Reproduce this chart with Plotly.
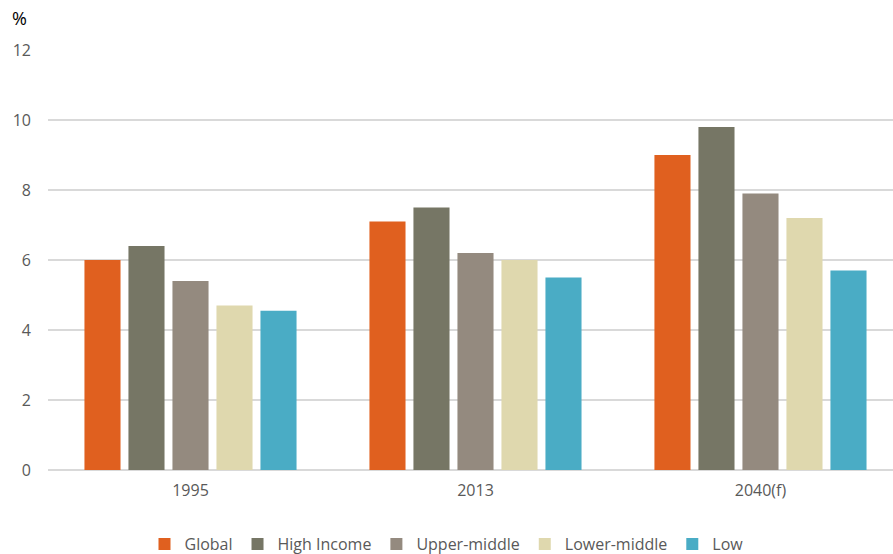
import plotly.graph_objects as go

categories = ["1995", "2013", "2040(f)"]
series_names = ["Global", "High Income", "Upper-middle", "Lower-middle", "Low"]
global_vals = [6.0, 7.1, 9.0]
high_income = [6.4, 7.5, 9.8]
upper_middle = [5.4, 6.2, 7.9]
lower_middle = [4.7, 6.0, 7.2]
low_vals = [4.55, 5.5, 5.7]
colors = ["#E0601F", "#767665", "#948A7F", "#DFD8AE", "#4AACC5"]
y_ticks = [0, 2, 4, 6, 8, 10, 12]

fig = go.Figure()
for name, vals, c in zip(series_names,
                         [global_vals, high_income, upper_middle, lower_middle, low_vals],
                         colors):
    fig.add_trace(go.Bar(x=list(range(len(categories))), y=vals, name=name,
                         marker=dict(color=c, line=dict(width=0))))

fig.update_layout(
    width=893, height=554,
    margin=dict(l=48, r=0, t=50, b=84, autoexpand=False),
    plot_bgcolor="white", paper_bgcolor="white",
    barmode="group", bargap=0.228, bargroupgap=0.18,
    font=dict(family="Open Sans", size=16, color="#595959"),
    showlegend=True,
    legend=dict(orientation="h", x=0.5, xanchor="center", xref="container",
                y=(554 - 544) / 554, yanchor="middle", yref="container",
                font=dict(size=16, color="#595959"), itemwidth=30, traceorder="normal"),
    xaxis=dict(tickmode="array", tickvals=list(range(len(categories))), ticktext=categories,
               range=[-0.5, 2.465], showgrid=False, zeroline=False, showline=False,
               ticks="", ticklabelstandoff=9),
    yaxis=dict(range=[0, 12], tickvals=y_ticks, showgrid=True, gridcolor="#D9D9D9",
               gridwidth=1.5, zeroline=True, zerolinecolor="#D9D9D9", zerolinewidth=1.5,
               ticks="", ticklabelstandoff=16),
    annotations=[dict(text="%", xref="paper", yref="paper", x=-38/845, y=1 + 32/420,
                      xanchor="left", yanchor="middle", showarrow=False,
                      font=dict(size=18, color="#000000"))],
)

fig.write_html("out.html")
